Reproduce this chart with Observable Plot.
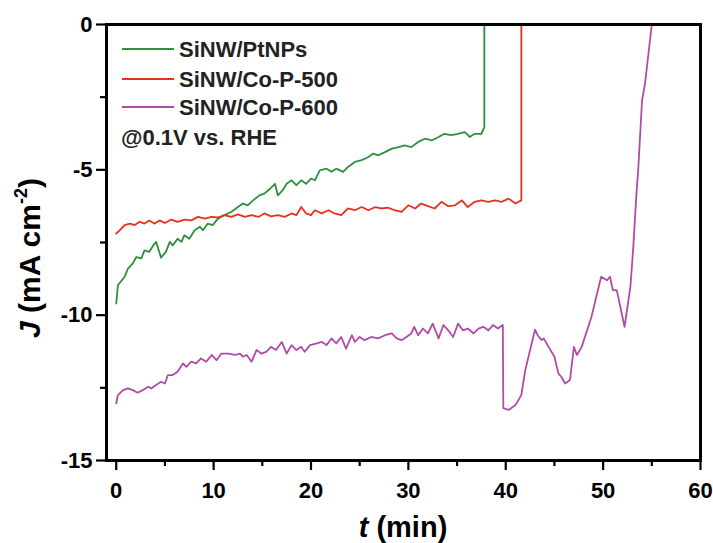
<!DOCTYPE html>
<html>
<head>
<meta charset="utf-8">
<script src="https://cdn.jsdelivr.net/npm/d3@7"></script>
<script src="https://cdn.jsdelivr.net/npm/@observablehq/plot@0.6"></script>
<style>
  html, body { margin: 0; padding: 0; background: #fff; overflow: hidden; }
  #chart { position: relative; width: 713px; height: 543px; }
  #chart svg { font-family: 'Liberation Sans', Arial, Helvetica, sans-serif; font-weight: bold; }
  #box { position: absolute; box-sizing: border-box; border: 3px solid #000; pointer-events: none; }
</style>
</head>
<body>
<div id="chart"></div>
<script>
// ---- Data ----
const seriesNames = ["SiNW/PtNPs", "SiNW/Co-P-500", "SiNW/Co-P-600"];
const seriesColors = ["#2f8f3c", "#e8321f", "#b04ca8"];
const noteText = "@0.1V vs. RHE";

const xDomain = [-1, 60];
const yDomain = [-15, 0];
const xTicks = [0, 10, 20, 30, 40, 50, 60];
const xMinorTicks = [5, 15, 25, 35, 45, 55];
const yTicks = [0, -5, -10, -15];
const yMinorTicks = [-2.5, -7.5, -12.5];

const ptT = [0,0.17,0.86,1.2,1.7,2.06,2.57,2.9,3.4,3.8,4.1,4.6,5.1,5.5,5.8,6.3,6.7,7.0,7.5,8.05,8.6,8.9,9.4,9.9,10.45,11.1,11.8,12.5,13.0,13.5,14.05,14.7,15.2,15.8,16.3,16.6,17.1,17.5,18.0,18.5,19.0,19.5,20.0,20.4,20.9,21.6,22.1,22.6,23.3,23.8,24.5,25.2,25.9,26.4,26.9,27.6,28.3,29.0,29.6,30.3,31.0,31.7,32.4,33.1,33.7,34.4,35.1,35.8,36.3,36.8,37.5,37.8,37.8];
const ptJ = [-9.6,-8.97,-8.68,-8.4,-8.22,-8.0,-8.05,-7.77,-7.82,-7.6,-7.48,-8.02,-7.82,-7.48,-7.6,-7.37,-7.48,-7.25,-7.37,-7.08,-6.96,-7.08,-6.85,-6.9,-6.68,-6.56,-6.45,-6.28,-6.16,-6.22,-6.05,-5.88,-5.82,-5.65,-5.48,-5.88,-5.7,-5.48,-5.36,-5.53,-5.36,-5.48,-5.3,-5.36,-5.02,-4.96,-5.07,-4.96,-5.07,-4.9,-4.73,-4.67,-4.56,-4.44,-4.5,-4.39,-4.27,-4.22,-4.16,-4.22,-4.04,-3.93,-3.99,-3.87,-3.76,-3.81,-3.76,-3.7,-3.87,-3.76,-3.76,-3.53,0];

const co500T = [0,0.35,0.86,1.4,1.9,2.4,2.9,3.4,3.9,4.45,5.0,5.65,6.3,7.0,7.7,8.4,9.1,9.8,10.45,11.1,11.8,12.5,13.2,13.9,14.6,15.2,15.9,16.6,17.3,18.0,18.5,19.0,19.5,20.0,20.4,21.1,21.8,22.4,23.1,23.8,24.5,25.2,25.9,26.6,27.2,27.9,28.6,29.3,30.0,30.7,31.3,32.0,32.7,33.4,34.1,34.8,35.5,36.1,36.8,37.5,38.2,38.9,39.6,40.3,41.0,41.6,41.6];
const co500J = [-7.19,-7.08,-6.9,-6.85,-6.9,-6.79,-6.85,-6.74,-6.85,-6.74,-6.83,-6.71,-6.79,-6.71,-6.74,-6.62,-6.68,-6.62,-6.64,-6.56,-6.62,-6.53,-6.62,-6.56,-6.62,-6.5,-6.6,-6.56,-6.62,-6.5,-6.56,-6.28,-6.5,-6.56,-6.39,-6.5,-6.39,-6.5,-6.56,-6.33,-6.39,-6.28,-6.39,-6.28,-6.33,-6.3,-6.39,-6.45,-6.22,-6.33,-6.16,-6.25,-6.33,-6.1,-6.25,-6.22,-6.05,-6.28,-6.1,-6.05,-6.1,-6.05,-6.1,-5.99,-6.16,-6.05,0];

const co600T = [0,0.17,0.7,1.2,1.7,2.2,2.7,3.3,3.6,4.1,4.6,5.0,5.3,5.8,6.3,6.85,7.2,7.7,8.2,8.7,9.25,9.8,10.3,10.8,11.5,12.2,12.7,13.0,13.4,13.9,14.4,14.9,15.4,15.9,16.4,17.0,17.5,18.0,18.5,19.0,19.35,19.9,20.6,21.1,21.6,22.1,22.6,23.1,23.6,24.2,24.5,25.0,25.5,26.2,26.9,27.6,28.3,28.8,29.3,29.8,30.3,30.6,31.0,31.5,32.0,32.5,33.1,33.6,34.1,34.6,35.1,35.6,36.1,36.7,37.2,37.7,38.2,38.7,39.2,39.7,39.75,40.3,41.0,41.6,42.0,43.0,43.3,43.7,43.9,44.4,45.0,45.4,45.7,46.1,46.6,46.8,47.0,47.3,47.8,48.8,49.8,50.4,50.7,51.0,51.4,52.2,52.8,53.1,53.4,53.6,54.0,54.3,55.0];
const co600J = [-13.03,-12.75,-12.58,-12.52,-12.58,-12.67,-12.58,-12.46,-12.52,-12.4,-12.29,-12.35,-12.06,-12.06,-11.95,-11.66,-11.78,-11.6,-11.66,-11.49,-11.6,-11.37,-11.55,-11.32,-11.32,-11.37,-11.32,-11.43,-11.37,-11.6,-11.2,-11.32,-11.26,-11.09,-11.2,-10.92,-11.32,-11.03,-11.2,-11.09,-11.26,-11.03,-10.97,-10.92,-11.03,-10.8,-10.97,-10.75,-11.15,-10.69,-10.92,-10.75,-10.86,-10.75,-10.8,-10.69,-10.63,-10.8,-10.86,-10.75,-10.63,-10.4,-10.69,-10.46,-10.63,-10.29,-10.8,-10.34,-10.52,-10.75,-10.29,-10.52,-10.46,-10.63,-10.46,-10.4,-10.52,-10.34,-10.46,-10.34,-13.2,-13.26,-13.09,-12.75,-11.9,-10.5,-10.7,-10.86,-10.8,-11.09,-11.43,-12.0,-12.12,-12.35,-12.23,-11.65,-11.09,-11.37,-11.09,-10.06,-8.68,-8.8,-8.68,-9.14,-9.14,-10.4,-9.03,-7.65,-5.93,-5.02,-2.6,-2.04,0];

// ---- Build per-series tables ----
const seriesData = [[ptT, ptJ], [co500T, co500J], [co600T, co600J]].map(([ts, js]) =>
  ts.map((t, k) => ({t, J: js[k]})));

const font = "'Liberation Sans', Arial, Helvetica, sans-serif";
const fmt = d => String(d);

const svg = Plot.plot({
  width: 713,
  height: 543,
  marginLeft: 106,
  marginRight: 13,
  marginTop: 24,
  marginBottom: 83,
  x: {domain: xDomain},
  y: {domain: yDomain},
  marks: [
    Plot.frame({stroke: "black", strokeWidth: 3}),
    ...seriesData.map((d, i) => Plot.line(d, {x: "t", y: "J", stroke: seriesColors[i], strokeWidth: 1.8})),
    Plot.axisX({ticks: xTicks, tickSize: 10, tickPadding: 12, fontSize: 22, strokeWidth: 2.2, tickFormat: fmt, label: null}),
    Plot.axisX({ticks: xMinorTicks, tickSize: 6, tickFormat: () => "", strokeWidth: 2.2, label: null}),
    Plot.axisY({ticks: yTicks, tickSize: 10, tickPadding: 4, fontSize: 22, strokeWidth: 2.2, tickFormat: fmt, label: null}),
    Plot.axisY({ticks: yMinorTicks, tickSize: 6, tickFormat: () => "", strokeWidth: 2.2, label: null})
  ]
});

const chart = document.getElementById("chart");
chart.appendChild(svg);

const s = d3.select(svg);
const sx = svg.scale("x"), sy = svg.scale("y");

// Frame box as an HTML overlay, positioned from the scales' domain ends
const fx0 = sx.apply(xDomain[0]), fx1 = sx.apply(xDomain[1]);
const fy0 = sy.apply(yDomain[1]), fy1 = sy.apply(yDomain[0]);
const box = document.createElement("div");
box.id = "box";
box.style.left = (fx0 - 1.5) + "px";
box.style.top = (fy0 - 1.5) + "px";
box.style.width = (fx1 - fx0 + 3) + "px";
box.style.height = (fy1 - fy0 + 3) + "px";
chart.appendChild(box);

// Legend inside the frame (top-left)
const leg = s.append("g").attr("font-family", font).attr("font-weight", "bold").attr("font-size", 22)
  .attr("fill", "#222").attr("text-anchor", "start");
const legY = [49, 79, 107];
seriesNames.forEach((name, i) => {
  leg.append("line").attr("x1", 122).attr("x2", 174).attr("y1", legY[i]).attr("y2", legY[i])
    .attr("stroke", seriesColors[i]).attr("stroke-width", 1.8);
  leg.append("text").attr("x", 179).attr("y", legY[i]).attr("dy", "0.36em").text(name);
});
leg.append("text").attr("x", 121).attr("y", 137).attr("dy", "0.36em").text(noteText);

// Axis titles
const xl = s.append("text").attr("x", 403).attr("y", 537).attr("text-anchor", "middle")
  .attr("font-family", font).attr("font-weight", "bold").attr("font-size", 29).attr("fill", "black");
xl.append("tspan").attr("font-style", "italic").text("t");
xl.append("tspan").text(" (min)");

const yl = s.append("text").attr("transform", "translate(40,258) rotate(-90)").attr("text-anchor", "middle")
  .attr("font-family", font).attr("font-weight", "bold").attr("font-size", 30).attr("fill", "black");
yl.append("tspan").attr("font-style", "italic").text("J");
yl.append("tspan").text(" (mA cm");
yl.append("tspan").attr("dy", "-0.75em").attr("font-size", "0.6em").text("-2");
yl.append("tspan").attr("dy", "0.45em").text(")");
</script>
</body>
</html>
